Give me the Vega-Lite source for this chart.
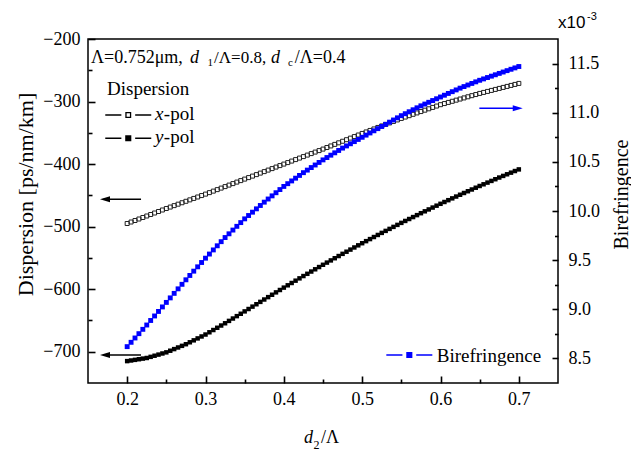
{
"$schema": "https://vega.github.io/schema/vega-lite/v6.json",
"width": 470,
"height": 344,
"autosize": {"type": "none"},
"padding": {"left": 88, "top": 39, "right": 73, "bottom": 73},
"background": "white",
"config": {
  "view": {"stroke": "black", "strokeWidth": 1.5},
  "axis": {"labelFont": "Liberation Serif", "labelFontSize": 18, "labelColor": "black", "titleFont": "Liberation Serif", "titleFontWeight": "normal", "titleColor": "black", "grid": false}
},
"data": {"values": [
{"d":0.200,"xp":-495.0,"yp":-715.0,"bi":8.620},
{"d":0.205,"xp":-492.6,"yp":-714.0,"bi":8.664},
{"d":0.210,"xp":-490.2,"yp":-713.0,"bi":8.708},
{"d":0.215,"xp":-487.8,"yp":-712.0,"bi":8.752},
{"d":0.220,"xp":-485.4,"yp":-711.0,"bi":8.796},
{"d":0.225,"xp":-483.0,"yp":-710.0,"bi":8.840},
{"d":0.230,"xp":-480.6,"yp":-708.2,"bi":8.886},
{"d":0.235,"xp":-478.2,"yp":-706.4,"bi":8.932},
{"d":0.240,"xp":-475.8,"yp":-704.6,"bi":8.978},
{"d":0.245,"xp":-473.4,"yp":-702.8,"bi":9.024},
{"d":0.250,"xp":-471.0,"yp":-701.0,"bi":9.070},
{"d":0.255,"xp":-468.7,"yp":-698.4,"bi":9.116},
{"d":0.260,"xp":-466.4,"yp":-695.8,"bi":9.162},
{"d":0.265,"xp":-464.1,"yp":-693.2,"bi":9.208},
{"d":0.270,"xp":-461.8,"yp":-690.6,"bi":9.254},
{"d":0.275,"xp":-459.5,"yp":-688.0,"bi":9.300},
{"d":0.280,"xp":-457.2,"yp":-684.9,"bi":9.344},
{"d":0.285,"xp":-454.9,"yp":-681.8,"bi":9.388},
{"d":0.290,"xp":-452.6,"yp":-678.7,"bi":9.432},
{"d":0.295,"xp":-450.3,"yp":-675.6,"bi":9.476},
{"d":0.300,"xp":-448.0,"yp":-672.5,"bi":9.520},
{"d":0.305,"xp":-445.6,"yp":-668.9,"bi":9.562},
{"d":0.310,"xp":-443.2,"yp":-665.3,"bi":9.604},
{"d":0.315,"xp":-440.8,"yp":-661.7,"bi":9.646},
{"d":0.320,"xp":-438.4,"yp":-658.1,"bi":9.688},
{"d":0.325,"xp":-436.0,"yp":-654.5,"bi":9.730},
{"d":0.330,"xp":-433.6,"yp":-650.7,"bi":9.768},
{"d":0.335,"xp":-431.2,"yp":-646.9,"bi":9.806},
{"d":0.340,"xp":-428.8,"yp":-643.1,"bi":9.844},
{"d":0.345,"xp":-426.4,"yp":-639.3,"bi":9.882},
{"d":0.350,"xp":-424.0,"yp":-635.5,"bi":9.920},
{"d":0.355,"xp":-421.6,"yp":-631.7,"bi":9.954},
{"d":0.360,"xp":-419.2,"yp":-627.9,"bi":9.988},
{"d":0.365,"xp":-416.8,"yp":-624.1,"bi":10.022},
{"d":0.370,"xp":-414.4,"yp":-620.3,"bi":10.056},
{"d":0.375,"xp":-412.0,"yp":-616.5,"bi":10.090},
{"d":0.380,"xp":-409.6,"yp":-612.7,"bi":10.122},
{"d":0.385,"xp":-407.2,"yp":-608.9,"bi":10.154},
{"d":0.390,"xp":-404.8,"yp":-605.1,"bi":10.186},
{"d":0.395,"xp":-402.4,"yp":-601.3,"bi":10.218},
{"d":0.400,"xp":-400.0,"yp":-597.5,"bi":10.250},
{"d":0.405,"xp":-397.6,"yp":-593.8,"bi":10.278},
{"d":0.410,"xp":-395.2,"yp":-590.1,"bi":10.306},
{"d":0.415,"xp":-392.8,"yp":-586.4,"bi":10.334},
{"d":0.420,"xp":-390.4,"yp":-582.7,"bi":10.362},
{"d":0.425,"xp":-388.0,"yp":-579.0,"bi":10.390},
{"d":0.430,"xp":-385.6,"yp":-575.4,"bi":10.416},
{"d":0.435,"xp":-383.2,"yp":-571.8,"bi":10.442},
{"d":0.440,"xp":-380.8,"yp":-568.2,"bi":10.468},
{"d":0.445,"xp":-378.4,"yp":-564.6,"bi":10.494},
{"d":0.450,"xp":-376.0,"yp":-561.0,"bi":10.520},
{"d":0.455,"xp":-373.5,"yp":-557.5,"bi":10.544},
{"d":0.460,"xp":-371.0,"yp":-554.0,"bi":10.568},
{"d":0.465,"xp":-368.5,"yp":-550.5,"bi":10.592},
{"d":0.470,"xp":-366.0,"yp":-547.0,"bi":10.616},
{"d":0.475,"xp":-363.5,"yp":-543.5,"bi":10.640},
{"d":0.480,"xp":-361.0,"yp":-540.1,"bi":10.662},
{"d":0.485,"xp":-358.5,"yp":-536.7,"bi":10.684},
{"d":0.490,"xp":-356.0,"yp":-533.3,"bi":10.706},
{"d":0.495,"xp":-353.5,"yp":-529.9,"bi":10.728},
{"d":0.500,"xp":-351.0,"yp":-526.5,"bi":10.750},
{"d":0.505,"xp":-348.6,"yp":-523.2,"bi":10.772},
{"d":0.510,"xp":-346.2,"yp":-519.9,"bi":10.794},
{"d":0.515,"xp":-343.8,"yp":-516.6,"bi":10.816},
{"d":0.520,"xp":-341.4,"yp":-513.3,"bi":10.838},
{"d":0.525,"xp":-339.0,"yp":-510.0,"bi":10.860},
{"d":0.530,"xp":-336.6,"yp":-506.8,"bi":10.882},
{"d":0.535,"xp":-334.2,"yp":-503.6,"bi":10.904},
{"d":0.540,"xp":-331.8,"yp":-500.4,"bi":10.926},
{"d":0.545,"xp":-329.4,"yp":-497.2,"bi":10.948},
{"d":0.550,"xp":-327.0,"yp":-494.0,"bi":10.970},
{"d":0.555,"xp":-324.8,"yp":-490.9,"bi":10.990},
{"d":0.560,"xp":-322.6,"yp":-487.8,"bi":11.010},
{"d":0.565,"xp":-320.4,"yp":-484.7,"bi":11.030},
{"d":0.570,"xp":-318.2,"yp":-481.6,"bi":11.050},
{"d":0.575,"xp":-316.0,"yp":-478.5,"bi":11.070},
{"d":0.580,"xp":-313.8,"yp":-475.5,"bi":11.088},
{"d":0.585,"xp":-311.6,"yp":-472.5,"bi":11.106},
{"d":0.590,"xp":-309.4,"yp":-469.5,"bi":11.124},
{"d":0.595,"xp":-307.2,"yp":-466.5,"bi":11.142},
{"d":0.600,"xp":-305.0,"yp":-463.5,"bi":11.160},
{"d":0.605,"xp":-303.2,"yp":-460.6,"bi":11.178},
{"d":0.610,"xp":-301.4,"yp":-457.7,"bi":11.196},
{"d":0.615,"xp":-299.6,"yp":-454.8,"bi":11.214},
{"d":0.620,"xp":-297.8,"yp":-451.9,"bi":11.232},
{"d":0.625,"xp":-296.0,"yp":-449.0,"bi":11.250},
{"d":0.630,"xp":-294.2,"yp":-446.2,"bi":11.266},
{"d":0.635,"xp":-292.4,"yp":-443.4,"bi":11.282},
{"d":0.640,"xp":-290.6,"yp":-440.6,"bi":11.298},
{"d":0.645,"xp":-288.8,"yp":-437.8,"bi":11.314},
{"d":0.650,"xp":-287.0,"yp":-435.0,"bi":11.330},
{"d":0.655,"xp":-285.4,"yp":-432.3,"bi":11.344},
{"d":0.660,"xp":-283.8,"yp":-429.6,"bi":11.358},
{"d":0.665,"xp":-282.2,"yp":-426.9,"bi":11.372},
{"d":0.670,"xp":-280.6,"yp":-424.2,"bi":11.386},
{"d":0.675,"xp":-279.0,"yp":-421.5,"bi":11.400},
{"d":0.680,"xp":-277.4,"yp":-418.9,"bi":11.414},
{"d":0.685,"xp":-275.8,"yp":-416.3,"bi":11.428},
{"d":0.690,"xp":-274.2,"yp":-413.7,"bi":11.442},
{"d":0.695,"xp":-272.6,"yp":-411.1,"bi":11.456},
{"d":0.700,"xp":-271.0,"yp":-408.5,"bi":11.470}
]},
"layer": [
{
  "layer": [
    {"mark": {"type": "point", "shape": "square", "filled": false, "stroke": "#222", "strokeWidth": 1, "size": 16, "opacity": 1},
     "encoding": {
       "x": {"field": "d", "type": "quantitative", "scale": {"domain": [0.15, 0.75], "nice": false, "zero": false},
             "axis": {"orient": "bottom", "values": [0.2, 0.3, 0.4, 0.5, 0.6, 0.7], "format": ".1f", "ticks": true, "tickSize": -7, "tickColor": "#000000", "tickWidth": 1.6, "domain": false, "labelPadding": 14, "title": null}},
       "y": {"field": "xp", "type": "quantitative", "scale": {"domain": [-750, -200], "nice": false, "zero": false},
             "axis": {"orient": "left", "values": [-700, -600, -500, -400, -300, -200], "ticks": true, "tickSize": -7, "tickColor": "#000000", "tickWidth": 1.6, "domain": false, "labelPadding": 15, "title": "Dispersion [ps/nm/km]", "titleFontSize": 22, "titleAngle": 270, "titleX": -63, "titleY": 155, "titleAlign": "center", "titleBaseline": "middle"}}
     }},
    {"mark": {"type": "point", "shape": "square", "filled": true, "color": "black", "size": 20, "opacity": 1},
     "encoding": {
       "x": {"field": "d", "type": "quantitative", "scale": {"domain": [0.15, 0.75], "nice": false, "zero": false},
             "axis": {"orient": "bottom", "values": [0.25, 0.35, 0.45, 0.55, 0.65], "labels": false, "domain": false, "ticks": true, "tickColor": "#000000", "tickWidth": 1.6, "tickSize": -4, "title": null}},
       "y": {"field": "yp", "type": "quantitative", "scale": {"domain": [-750, -200], "nice": false, "zero": false},
             "axis": {"orient": "left", "values": [-650, -550, -450, -350, -250], "labels": false, "domain": false, "ticks": true, "tickColor": "#000000", "tickWidth": 1.6, "tickSize": -4, "title": null}}
     }},
    {"data": {"values": [{}]}, "mark": {"type": "text", "text": "Λ=0.752μm,", "font": "Liberation Serif", "fontSize": 18, "align": "left", "baseline": "alphabetic"},
     "encoding": {"x": {"datum": 0.1538, "type": "quantitative", "axis": null}, "y": {"datum": -238.4, "type": "quantitative", "axis": null}}},
    {"data": {"values": [{}]}, "mark": {"type": "text", "text": "d", "font": "Liberation Serif", "fontStyle": "italic", "fontSize": 18, "align": "left", "baseline": "alphabetic"},
     "encoding": {"x": {"datum": 0.2802, "type": "quantitative", "axis": null}, "y": {"datum": -238.4, "type": "quantitative", "axis": null}}},
    {"data": {"values": [{}]}, "mark": {"type": "text", "text": "1", "font": "Liberation Serif", "fontSize": 11, "align": "left", "baseline": "alphabetic"},
     "encoding": {"x": {"datum": 0.3026, "type": "quantitative", "axis": null}, "y": {"datum": -243.2, "type": "quantitative", "axis": null}}},
    {"data": {"values": [{}]}, "mark": {"type": "text", "text": "/Λ=0.8,", "font": "Liberation Serif", "fontSize": 17, "align": "left", "baseline": "alphabetic"},
     "encoding": {"x": {"datum": 0.3109, "type": "quantitative", "axis": null}, "y": {"datum": -238.4, "type": "quantitative", "axis": null}}},
    {"data": {"values": [{}]}, "mark": {"type": "text", "text": "d", "font": "Liberation Serif", "fontStyle": "italic", "fontSize": 18, "align": "left", "baseline": "alphabetic"},
     "encoding": {"x": {"datum": 0.3836, "type": "quantitative", "axis": null}, "y": {"datum": -238.4, "type": "quantitative", "axis": null}}},
    {"data": {"values": [{}]}, "mark": {"type": "text", "text": "c", "font": "Liberation Serif", "fontSize": 11, "align": "left", "baseline": "alphabetic"},
     "encoding": {"x": {"datum": 0.4053, "type": "quantitative", "axis": null}, "y": {"datum": -243.2, "type": "quantitative", "axis": null}}},
    {"data": {"values": [{}]}, "mark": {"type": "text", "text": "/Λ=0.4", "font": "Liberation Serif", "fontSize": 18, "align": "left", "baseline": "alphabetic"},
     "encoding": {"x": {"datum": 0.4140, "type": "quantitative", "axis": null}, "y": {"datum": -238.4, "type": "quantitative", "axis": null}}},
    {"data": {"values": [{}]}, "mark": {"type": "text", "text": "Dispersion", "font": "Liberation Serif", "fontSize": 19, "align": "left", "baseline": "alphabetic"},
     "encoding": {"x": {"datum": 0.1743, "type": "quantitative", "axis": null}, "y": {"datum": -289.5, "type": "quantitative", "axis": null}}},
    {"data": {"values": [{}]}, "mark": {"type": "point", "shape": "M-1,0H-0.3M0.3,0H1M-0.1,-0.1H0.1V0.1H-0.1Z", "size": 2116, "filled": false, "stroke": "black", "strokeWidth": 1.3, "opacity": 1},
     "encoding": {"x": {"datum": 0.2014, "type": "quantitative", "axis": null}, "y": {"datum": -321.5, "type": "quantitative", "axis": null}}},
    {"data": {"values": [{}]}, "mark": {"type": "text", "text": "x", "font": "Liberation Serif", "fontStyle": "italic", "fontSize": 19, "align": "left", "baseline": "alphabetic"},
     "encoding": {"x": {"datum": 0.2355, "type": "quantitative", "axis": null}, "y": {"datum": -329.5, "type": "quantitative", "axis": null}}},
    {"data": {"values": [{}]}, "mark": {"type": "text", "text": "-pol", "font": "Liberation Serif", "fontSize": 19, "align": "left", "baseline": "alphabetic"},
     "encoding": {"x": {"datum": 0.2468, "type": "quantitative", "axis": null}, "y": {"datum": -329.5, "type": "quantitative", "axis": null}}},
    {"data": {"values": [{}]}, "mark": {"type": "point", "shape": "M-1,0H-0.3M0.3,0H1M-0.1,-0.1H0.1V0.1H-0.1Z", "size": 2116, "filled": true, "fill": "black", "stroke": "black", "strokeWidth": 1.5, "opacity": 1},
     "encoding": {"x": {"datum": 0.2014, "type": "quantitative", "axis": null}, "y": {"datum": -358.8, "type": "quantitative", "axis": null}}},
    {"data": {"values": [{}]}, "mark": {"type": "text", "text": "y", "font": "Liberation Serif", "fontStyle": "italic", "fontSize": 19, "align": "left", "baseline": "alphabetic"},
     "encoding": {"x": {"datum": 0.2355, "type": "quantitative", "axis": null}, "y": {"datum": -366.7, "type": "quantitative", "axis": null}}},
    {"data": {"values": [{}]}, "mark": {"type": "text", "text": "-pol", "font": "Liberation Serif", "fontSize": 19, "align": "left", "baseline": "alphabetic"},
     "encoding": {"x": {"datum": 0.2468, "type": "quantitative", "axis": null}, "y": {"datum": -366.7, "type": "quantitative", "axis": null}}},
    {"data": {"values": [{}]}, "mark": {"type": "rule", "color": "black", "strokeWidth": 1.6},
     "encoding": {"x": {"datum": 0.1700, "type": "quantitative", "axis": null}, "x2": {"datum": 0.2177}, "y": {"datum": -456.3, "type": "quantitative", "axis": null}}},
    {"data": {"values": [{}]}, "mark": {"type": "point", "shape": "M0,0L2,-0.6L2,0.6Z", "size": 100, "filled": true, "color": "black", "opacity": 1},
     "encoding": {"x": {"datum": 0.1653, "type": "quantitative", "axis": null}, "y": {"datum": -456.3, "type": "quantitative", "axis": null}}},
    {"data": {"values": [{}]}, "mark": {"type": "rule", "color": "black", "strokeWidth": 1.6},
     "encoding": {"x": {"datum": 0.1700, "type": "quantitative", "axis": null}, "x2": {"datum": 0.2177}, "y": {"datum": -705.2, "type": "quantitative", "axis": null}}},
    {"data": {"values": [{}]}, "mark": {"type": "point", "shape": "M0,0L2,-0.6L2,0.6Z", "size": 100, "filled": true, "color": "black", "opacity": 1},
     "encoding": {"x": {"datum": 0.1653, "type": "quantitative", "axis": null}, "y": {"datum": -705.2, "type": "quantitative", "axis": null}}},
    {"data": {"values": [{}]}, "mark": {"type": "text", "text": "d", "font": "Liberation Serif", "fontStyle": "italic", "fontSize": 18, "align": "left", "baseline": "alphabetic"},
     "encoding": {"x": {"datum": 0.4258, "type": "quantitative", "axis": null}, "y": {"datum": -845.9, "type": "quantitative", "axis": null}}},
    {"data": {"values": [{}]}, "mark": {"type": "text", "text": "2", "font": "Liberation Serif", "fontSize": 12, "align": "left", "baseline": "alphabetic"},
     "encoding": {"x": {"datum": 0.4379, "type": "quantitative", "axis": null}, "y": {"datum": -855.5, "type": "quantitative", "axis": null}}},
    {"data": {"values": [{}]}, "mark": {"type": "text", "text": "/Λ", "font": "Liberation Serif", "fontSize": 18, "align": "left", "baseline": "alphabetic"},
     "encoding": {"x": {"datum": 0.4475, "type": "quantitative", "axis": null}, "y": {"datum": -845.9, "type": "quantitative", "axis": null}}}
  ],
  "resolve": {"axis": {"x": "independent", "y": "independent"}}
},
{
  "layer": [
    {"mark": {"type": "point", "shape": "square", "filled": true, "color": "#0000ff", "size": 24, "opacity": 1},
     "encoding": {
       "x": {"field": "d", "type": "quantitative", "scale": {"domain": [0.15, 0.75], "nice": false, "zero": false}, "axis": null},
       "y": {"field": "bi", "type": "quantitative", "scale": {"domain": [8.25, 11.75], "nice": false, "zero": false},
             "axis": {"orient": "right", "values": [8.5, 9, 9.5, 10, 10.5, 11, 11.5], "format": ".1f", "ticks": true, "tickSize": -6, "tickColor": "#000000", "tickWidth": 1.6, "domain": false, "labelPadding": 16, "title": "Birefringence", "titleFontSize": 20, "titleAngle": 270, "titleX": 63, "titleY": 155, "titleAlign": "center", "titleBaseline": "middle"}}
     }},
    {"data": {"values": [{}]}, "mark": {"type": "point", "shape": "M-1,0H-0.3M0.3,0H1M-0.1,-0.1H0.1V0.1H-0.1Z", "size": 2116, "filled": true, "fill": "#0000ff", "stroke": "#0000ff", "strokeWidth": 1.5, "opacity": 1},
     "encoding": {"x": {"datum": 0.5602, "type": "quantitative", "axis": null},
                  "y": {"datum": 8.535, "type": "quantitative", "scale": {"domain": [8.25, 11.75], "nice": false, "zero": false},
                        "axis": {"orient": "right", "values": [8.75, 9.25, 9.75, 10.25, 10.75, 11.25], "labels": false, "domain": false, "ticks": true, "tickColor": "#000000", "tickWidth": 1.6, "tickSize": -3.5, "title": null}}}},
    {"data": {"values": [{}]}, "mark": {"type": "text", "text": "Birefringence", "font": "Liberation Serif", "fontSize": 19, "align": "left", "baseline": "alphabetic"},
     "encoding": {"x": {"datum": 0.5952, "type": "quantitative", "axis": null}, "y": {"datum": 8.467, "type": "quantitative", "axis": null}}},
    {"data": {"values": [{}]}, "mark": {"type": "rule", "color": "#0000ff", "strokeWidth": 1.6},
     "encoding": {"x": {"datum": 0.6496, "type": "quantitative", "axis": null}, "x2": {"datum": 0.7000}, "y": {"datum": 11.045, "type": "quantitative", "axis": null}}},
    {"data": {"values": [{}]}, "mark": {"type": "point", "shape": "M0,0L-2,-0.6L-2,0.6Z", "size": 100, "filled": true, "color": "#0000ff", "opacity": 1},
     "encoding": {"x": {"datum": 0.7050, "type": "quantitative", "axis": null}, "y": {"datum": 11.045, "type": "quantitative", "axis": null}}},
    {"data": {"values": [{}]}, "mark": {"type": "text", "text": "x10", "font": "Liberation Sans", "fontSize": 17, "align": "left", "baseline": "alphabetic"},
     "encoding": {"x": {"datum": 0.75, "type": "quantitative", "axis": null}, "y": {"datum": 11.862, "type": "quantitative", "axis": null}}},
    {"data": {"values": [{}]}, "mark": {"type": "text", "text": "-3", "font": "Liberation Sans", "fontSize": 11, "align": "left", "baseline": "alphabetic"},
     "encoding": {"x": {"datum": 0.787, "type": "quantitative", "axis": null}, "y": {"datum": 11.943, "type": "quantitative", "axis": null}}}
  ],
  "resolve": {"axis": {"x": "independent", "y": "independent"}}
}
],
"resolve": {"scale": {"y": "independent"}, "axis": {"x": "independent", "y": "independent"}}
}
